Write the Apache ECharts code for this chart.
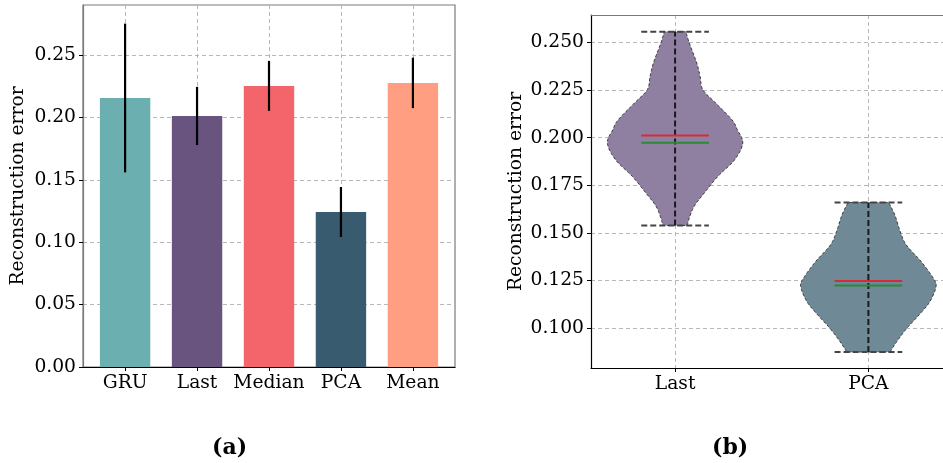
<!DOCTYPE html>
<html>
<head>
<meta charset="utf-8">
<script src="https://cdn.jsdelivr.net/npm/echarts@6/dist/echarts.min.js"></script>
<style>
html,body{margin:0;padding:0;background:#fff;}
#c{width:943px;height:463px;}
</style>
</head>
<body>
<div id="c"></div>
<script>
// ---- data (a) ----
const categories = ['GRU', 'Last', 'Median', 'PCA', 'Mean'];
const barValues = [0.2155, 0.2011, 0.2252, 0.1242, 0.2276];
const barErrors = [0.0596, 0.0233, 0.0200, 0.0200, 0.0202];
const barTicks = [0.00, 0.05, 0.10, 0.15, 0.20, 0.25];

// ---- data (b) ----
const violinCategories = ['Last', 'PCA'];
const lastProfileValues = [0.1539, 0.1578, 0.1639, 0.1709, 0.1796, 0.1884, 0.1972, 0.2042, 0.2094, 0.2182, 0.2252, 0.2321, 0.2392, 0.2497, 0.2556];
const lastProfileDensity = [0.18, 0.21, 0.28, 0.43, 0.63, 0.88, 1.00, 0.92, 0.84, 0.60, 0.41, 0.37, 0.32, 0.21, 0.16];
const pcaProfileValues = [0.0875, 0.0930, 0.1000, 0.1070, 0.1140, 0.1219, 0.1262, 0.1350, 0.1437, 0.1508, 0.1595, 0.1660];
const pcaProfileDensity = [0.32, 0.42, 0.57, 0.75, 0.91, 1.00, 0.96, 0.78, 0.56, 0.47, 0.39, 0.30];
const violinMin = [0.1539, 0.0875];
const violinMax = [0.2556, 0.1660];
const violinMean = [0.2012, 0.1248];
const violinMedian = [0.1973, 0.1224];
const violinTicks = [0.100, 0.125, 0.150, 0.175, 0.200, 0.225, 0.250];

// ---- styles ----
const barColors = ['#6BAFB0', '#68547F', '#F4656B', '#385B6F', '#FF9E81'];
const violinColors = ['#8F80A1', '#708997'];
const FONT = 'DejaVu Serif';
const FS = 18.7;

const profiles = [
  {v: lastProfileValues, d: lastProfileDensity},
  {v: pcaProfileValues, d: pcaProfileDensity}
];

// Catmull-Rom smoothing of an outline (pixel geometry only)
function smoothLine(pts, steps) {
  const out = [];
  for (let i = 0; i < pts.length - 1; i++) {
    const p0 = pts[Math.max(i - 1, 0)], p1 = pts[i], p2 = pts[i + 1], p3 = pts[Math.min(i + 2, pts.length - 1)];
    for (let s = 0; s < steps; s++) {
      const t = s / steps, t2 = t * t, t3 = t2 * t;
      const f = (a, b, c, d) => 0.5 * ((2 * b) + (-a + c) * t + (2 * a - 5 * b + 4 * c - d) * t2 + (-a + 3 * b - 3 * c + d) * t3);
      out.push([f(p0[0], p1[0], p2[0], p3[0]), f(p0[1], p1[1], p2[1], p3[1])]);
    }
  }
  out.push(pts[pts.length - 1]);
  return out;
}

const chart = echarts.init(document.getElementById('c'), null, {renderer: 'canvas'});

const gridLine = {show: true, lineStyle: {color: '#b8b8b8', type: [4, 3], width: 1}};
const labelStyle = {color: '#000', fontFamily: FONT, fontSize: FS};
const X2_MIN = 0.565, X2_MAX = 2.386;

const option = {
  animation: false,
  backgroundColor: '#fff',
  grid: [
    {left: 83, top: 5, width: 372, height: 362, show: true, borderColor: '#7a7a7a', borderWidth: 1.2, backgroundColor: 'transparent'},
    {left: 591, top: 15, width: 352, height: 353, show: false}
  ],
  xAxis: [
    {
      type: 'value', gridIndex: 0, min: -0.585, max: 4.585,
      axisLine: {show: true, onZero: false, lineStyle: {color: '#000', width: 1.2}},
      axisTick: {show: true, length: 4, lineStyle: {color: '#000'}, customValues: categories.map((c, i) => i)},
      axisLabel: Object.assign({margin: 7, customValues: categories.map((c, i) => i), formatter: v => categories[Math.round(v)] || ''}, labelStyle),
      splitLine: gridLine
    },
    {
      type: 'value', gridIndex: 1, min: X2_MIN, max: X2_MAX,
      axisLine: {show: true, onZero: false, lineStyle: {color: '#000', width: 1.2}},
      axisTick: {show: true, length: 4, lineStyle: {color: '#000'}, customValues: violinCategories.map((c, i) => i + 1)},
      axisLabel: Object.assign({margin: 7, customValues: violinCategories.map((c, i) => i + 1), formatter: v => violinCategories[Math.round(v) - 1] || ''}, labelStyle),
      splitLine: gridLine
    },
    {
      type: 'value', gridIndex: 1, min: X2_MIN, max: X2_MAX, position: 'top',
      axisLine: {show: true, onZero: false, lineStyle: {color: '#7a7a7a', width: 1.2}},
      axisTick: {show: false}, axisLabel: {show: false}, splitLine: {show: false}
    }
  ],
  yAxis: [
    {
      type: 'value', gridIndex: 0, min: 0, max: 0.29,
      name: 'Reconstruction error', nameLocation: 'middle', nameGap: 55,
      nameTextStyle: {color: '#000', fontFamily: FONT, fontSize: FS},
      axisLine: {show: true, onZero: false, lineStyle: {color: '#7a7a7a', width: 1.2}},
      axisTick: {show: true, length: 4, lineStyle: {color: '#000'}, customValues: barTicks},
      axisLabel: Object.assign({margin: 7, customValues: barTicks, formatter: v => v.toFixed(2)}, labelStyle),
      splitLine: gridLine
    },
    {
      type: 'value', gridIndex: 1, min: 0.0791, max: 0.2644,
      name: 'Reconstruction error', nameLocation: 'middle', nameGap: 65,
      nameTextStyle: {color: '#000', fontFamily: FONT, fontSize: FS},
      axisLine: {show: true, onZero: false, lineStyle: {color: '#000', width: 1.2}},
      axisTick: {show: true, length: 4, lineStyle: {color: '#000'}, customValues: violinTicks},
      axisLabel: Object.assign({margin: 7, customValues: violinTicks, formatter: v => v.toFixed(3)}, labelStyle),
      splitLine: gridLine
    }
  ],
  graphic: [
    {type: 'text', left: 229 - 17, top: 437, style: {text: '(a)', fill: '#000', font: 'bold 22px "DejaVu Serif"'}},
    {type: 'text', left: 729 - 17, top: 437, style: {text: '(b)', fill: '#000', font: 'bold 22px "DejaVu Serif"'}}
  ],
  series: [
    {
      type: 'bar', xAxisIndex: 0, yAxisIndex: 0, barWidth: 50.4,
      data: categories.map((c, i) => ({value: [i, barValues[i]], itemStyle: {color: barColors[i]}})),
      z: 2
    },
    {
      type: 'custom', xAxisIndex: 0, yAxisIndex: 0, z: 3,
      encode: {x: 0, y: [1, 2]},
      data: categories.map((c, i) => [i, barValues[i] - barErrors[i], barValues[i] + barErrors[i]]),
      renderItem: function (params, api) {
        const p1 = api.coord([api.value(0), api.value(1)]);
        const p2 = api.coord([api.value(0), api.value(2)]);
        return {type: 'line', shape: {x1: p1[0], y1: p1[1], x2: p2[0], y2: p2[1]}, style: {stroke: '#000', lineWidth: 2.2}};
      }
    },
    {
      type: 'custom', xAxisIndex: 1, yAxisIndex: 1, z: 3,
      encode: {x: 0, y: [1, 2]},
      data: violinCategories.map((c, i) => [i + 1, violinMin[i], violinMax[i]]),
      renderItem: function (params, api) {
        const i = params.dataIndex;
        const pos = api.value(0);
        const prof = profiles[i];
        const half = 0.35;
        const right = [], left = [];
        for (let k = 0; k < prof.v.length; k++) {
          right.push(api.coord([pos + half * prof.d[k], prof.v[k]]));
          left.push(api.coord([pos - half * prof.d[k], prof.v[k]]));
        }
        const pts = smoothLine(right, 8).concat(smoothLine(left, 8).reverse());
        const lo = api.coord([pos, violinMin[i]]);
        const hi = api.coord([pos, violinMax[i]]);
        const hl = function (val, color, dash, w) {
          const a = api.coord([pos - half / 2, val]);
          const b = api.coord([pos + half / 2, val]);
          return {type: 'line', shape: {x1: a[0], y1: a[1], x2: b[0], y2: b[1]}, style: {stroke: color, lineWidth: w, lineDash: dash}};
        };
        return {
          type: 'group',
          children: [
            {type: 'polygon', shape: {points: pts}, style: {fill: violinColors[i], stroke: '#3a3a3a', lineWidth: 1, lineDash: [3, 2]}},
            {type: 'line', shape: {x1: lo[0], y1: lo[1], x2: hi[0], y2: hi[1]}, style: {stroke: '#1a1a1a', lineWidth: 2, lineDash: [6, 3]}},
            hl(violinMin[i], '#444', [6, 3], 2),
            hl(violinMax[i], '#444', [6, 3], 2),
            hl(violinMean[i], '#d62a3a', null, 2),
            hl(violinMedian[i], '#2a8a36', null, 2)
          ]
        };
      }
    }
  ]
};
chart.setOption(option);
</script>
</body>
</html>
